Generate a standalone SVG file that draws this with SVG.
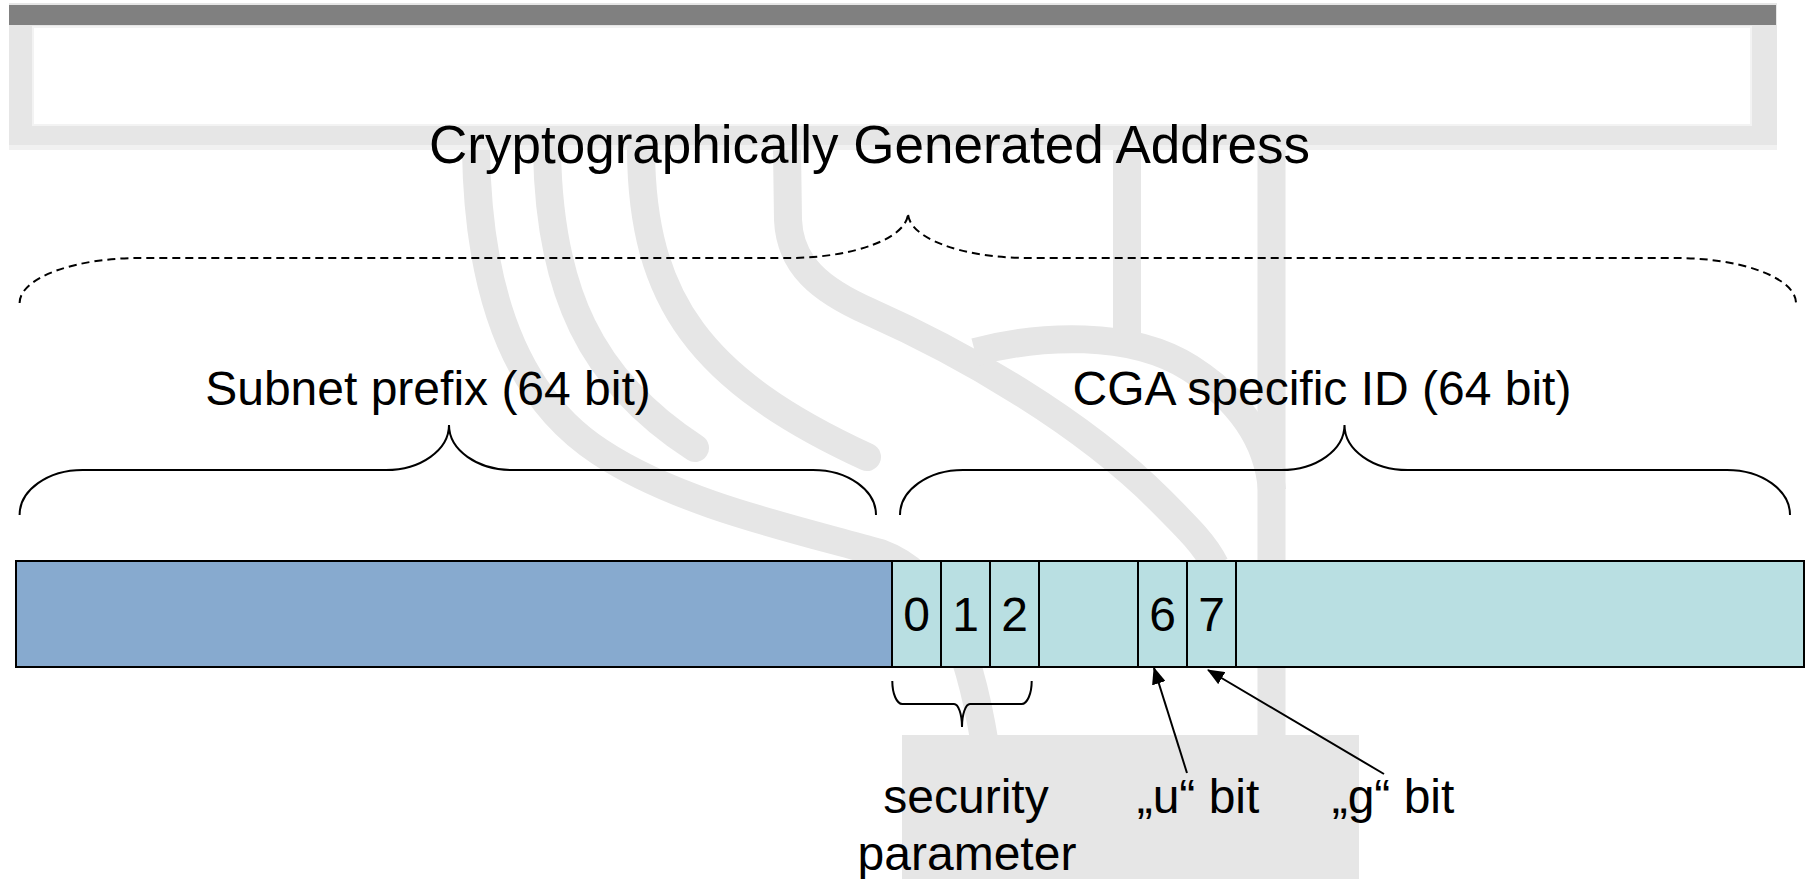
<svg xmlns="http://www.w3.org/2000/svg" width="1809" height="879" viewBox="0 0 1809 879">
<style>
.wm{fill:none;stroke:#e6e6e6;stroke-width:28}
.t{font-family:"Liberation Sans",Arial,sans-serif;fill:#000}
.lbl{font-size:48px;text-anchor:middle}
.br{fill:none;stroke:#000;stroke-width:2}
.cell{stroke:#000;stroke-width:2}
.arr{stroke:#000;stroke-width:2;fill:none}
</style>
<defs>
<marker id="ah" markerUnits="userSpaceOnUse" markerWidth="18" markerHeight="14" refX="16" refY="7" orient="auto">
<path d="M0,0 L17,7 L0,14 z" fill="#000"/>
</marker>
</defs>
<g id="background">
<rect x="9" y="3" width="1768" height="147" fill="#e6e6e6"/>
<rect x="9" y="145" width="1768" height="5" fill="#f1f1f1"/>
<rect x="9" y="5" width="1767" height="20" fill="#808080"/>
<rect x="33" y="27" width="1718" height="98" fill="#fff" stroke="#f3f3f3" stroke-width="2"/>
<path class="wm" d="M476,150 C478,300 520,400 600,452 C680,505 800,530 880,553 C940,575 968,640 985,745"/>
<path class="wm" stroke-linecap="round" d="M547,150 C549,290 590,380 695,448"/>
<path class="wm" stroke-linecap="round" d="M641,150 C642,300 700,380 867,457"/>
<path class="wm" d="M787,150 L788,220 C790,265 820,290 870,312 C960,352 1080,420 1160,500 C1190,530 1205,545 1215,565"/>
<path class="wm" d="M975,352 C1040,335 1130,330 1190,368 C1240,400 1268,440 1272,490"/>
<path class="wm" d="M1127,150 L1127,345"/>
<path class="wm" d="M1271.5,150 L1271.5,740"/>
<rect x="902" y="735" width="457" height="144" fill="#e6e6e6"/>
</g>
<g id="title">
<text class="t" x="869.5" y="163" font-size="53" text-anchor="middle">Cryptographically Generated Address</text>
</g>
<g id="cga-brace">
<path class="br" stroke-width="1.7" stroke-dasharray="8,5" d="M19.6,303 A120,45 0 0 1 139.6,258 L788,258 A120,45 0 0 0 908,213 A120,45 0 0 0 1028,258 L1676,258 A120,45 0 0 1 1796,303"/>
</g>
<g id="subnet-prefix">
<text class="t lbl" x="428" y="404.5">Subnet prefix (64 bit)</text>
<path class="br" d="M19.6,515 A63,45 0 0 1 82.6,470 L386,470 A63,45 0 0 0 449,425 A63,45 0 0 0 512,470 L813,470 A63,45 0 0 1 876,515"/>
</g>
<g id="cga-specific-id">
<text class="t lbl" x="1322" y="404.5">CGA specific ID (64 bit)</text>
<path class="br" d="M900,515 A63,45 0 0 1 963,470 L1281.5,470 A63,45 0 0 0 1344.5,425 A63,45 0 0 0 1407.5,470 L1727,470 A63,45 0 0 1 1790,515"/>
</g>
<g id="address-bar">
<rect x="16" y="561" width="876" height="106" fill="#87aacf"/>
<rect x="892" y="561" width="912" height="106" fill="#b9dfe2"/>
<rect x="16" y="561" width="1788" height="106" fill="none" stroke="#000" stroke-width="2"/>
<line class="cell" x1="892" y1="561" x2="892" y2="667"/>
<line class="cell" x1="941" y1="561" x2="941" y2="667"/>
<line class="cell" x1="990" y1="561" x2="990" y2="667"/>
<line class="cell" x1="1039" y1="561" x2="1039" y2="667"/>
<line class="cell" x1="1138" y1="561" x2="1138" y2="667"/>
<line class="cell" x1="1187" y1="561" x2="1187" y2="667"/>
<line class="cell" x1="1236" y1="561" x2="1236" y2="667"/>
<text class="t lbl" x="916.5" y="631">0</text>
<text class="t lbl" x="965.5" y="631">1</text>
<text class="t lbl" x="1014.5" y="631">2</text>
<text class="t lbl" x="1162.5" y="631">6</text>
<text class="t lbl" x="1211.5" y="631">7</text>
</g>
<g id="security-parameter">
<path class="br" d="M892.3,681 A10,23 0 0 0 902.3,704 L954,704 A8,23 0 0 1 962,727 A8,23 0 0 1 970,704 L1021.7,704 A10,23 0 0 0 1031.7,681"/>
<text class="t lbl" x="966" y="813">security</text>
<text class="t lbl" x="967" y="870">parameter</text>
</g>
<g id="u-bit">
<text class="t lbl" x="1198" y="813">„u“ bit</text>
</g>
<g id="g-bit">
<text class="t lbl" x="1393" y="813">„g“ bit</text>
</g>
<g id="connectors">
<line class="arr" x1="1187" y1="773" x2="1154" y2="668" marker-end="url(#ah)"/>
<line class="arr" x1="1384" y1="774" x2="1208" y2="670" marker-end="url(#ah)"/>
</g>
</svg>
